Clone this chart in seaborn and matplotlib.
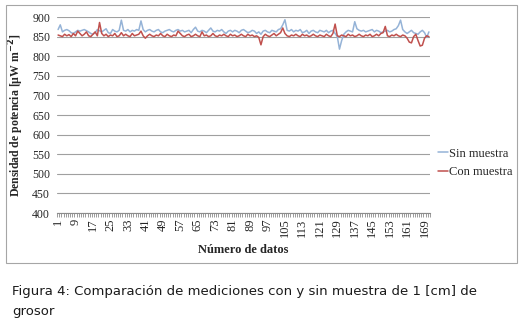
import numpy as np
import pandas as pd
import seaborn as sns
import matplotlib.pyplot as plt
from matplotlib.patches import Rectangle

# valores (µW m^-2)
sin_muestra = [
    868, 880, 862, 866, 868, 865, 860, 858, 862, 866,
    864, 866, 868, 865, 862, 858, 856, 860, 868, 865,
    862, 866, 870, 860, 858, 868, 864, 862, 866, 892,
    866, 864, 868, 862, 866, 864, 868, 866, 890, 868,
    862, 866, 868, 864, 862, 866, 868, 862, 860, 864,
    866, 868, 864, 862, 866, 868, 864, 866, 862, 864,
    866, 860, 868, 874, 864, 862, 866, 864, 860, 866,
    872, 864, 862, 866, 864, 868, 862, 858, 864, 866,
    862, 866, 864, 860, 866, 868, 864, 860, 862, 866,
    864, 858, 862, 856, 864, 866, 862, 860, 866, 864,
    862, 868, 870, 880, 893, 866, 864, 868, 862, 866,
    864, 868, 860, 862, 866, 858, 864, 866, 862, 860,
    866, 864, 862, 866, 860, 864, 866, 858, 850, 818,
    840, 856, 862, 866, 864, 862, 888, 870, 866, 864,
    866, 862, 864, 866, 868, 862, 866, 864, 860, 862,
    864, 866, 862, 864, 868, 870, 878, 892, 868, 862,
    858, 862, 866, 860, 858, 856, 862, 866, 860, 848, 862,
]
con_muestra = [
    854, 852, 850, 856, 852, 855, 850, 858, 852, 864,
    858, 852, 856, 862, 852, 850, 856, 862, 852, 886,
    858, 852, 856, 850, 854, 852, 858, 850, 852, 860,
    852, 856, 852, 850, 858, 852, 854, 856, 864, 852,
    846, 852, 856, 852, 850, 854, 852, 858, 852, 850,
    856, 852, 850, 854, 852, 864, 858, 852, 850, 854,
    856, 850, 852, 856, 852, 850, 862, 852, 854, 850,
    852, 858, 852, 850, 854, 852, 856, 852, 850, 856,
    852, 854, 850, 852, 856, 852, 850, 856, 852, 854,
    850, 852, 848, 829, 850, 856, 852, 850, 854, 858,
    852, 856, 860, 872, 858, 852, 850, 854, 852, 856,
    852, 850, 856, 852, 854, 850, 852, 856, 852, 850,
    854, 852, 850, 856, 852, 850, 858, 882, 852, 850,
    854, 852, 850, 856, 852, 854, 850, 852, 856, 852,
    850, 854, 852, 856, 850, 852, 856, 852, 858, 860,
    876, 852, 850, 854, 852, 856, 852, 850, 854, 852,
    846, 836, 834, 850, 856, 840, 826, 828, 846, 852, 850,
]
series_names = ["Sin muestra", "Con muestra"]
colors = ["#95B3D7", "#C0504D"]

n = len(sin_muestra)
datos = np.arange(1, n + 1)
df = pd.DataFrame({"dato": np.concatenate([datos, datos]),
                   "valor": sin_muestra + con_muestra,
                   "serie": [series_names[0]] * n + [series_names[1]] * n})

sns.set_style("white")
serif = "Liberation Serif"

fig = plt.figure(figsize=(5.27, 3.24), dpi=100)
ax = fig.add_axes([57 / 527, 1 - 213 / 324, (430 - 57) / 527, (213 - 17) / 324])

sns.lineplot(data=df, x="dato", y="valor", hue="serie", palette=colors,
             linewidth=1.1, ax=ax)

ax.set_ylim(400, 900)
ax.set_xlim(0.5, n + 0.5)
ax.set_yticks(np.arange(400, 901, 50))
ax.yaxis.grid(True, color="#a0a0a0", linewidth=0.8)
ax.set_axisbelow(True)
for s in ["top", "right", "left"]:
    ax.spines[s].set_visible(False)
ax.spines["bottom"].set_color("#8c8c8c")

ticks = datos[::8]
ax.set_xticks(ticks)
ax.set_xticklabels([str(t) for t in ticks], rotation=90, fontsize=9, family=serif)
ax.set_xticks(np.arange(0.5, n + 1, 1), minor=True)
ax.tick_params(axis="x", which="major", length=0, pad=4)
ax.tick_params(axis="x", which="minor", length=3, color="#8c8c8c", width=0.6, bottom=True)
ax.tick_params(axis="y", length=0, pad=5)
for lab in ax.get_yticklabels():
    lab.set_family(serif)
    lab.set_fontsize(8.5)

ax.set_xlabel("Número de datos", fontsize=9, fontweight="bold", family=serif, labelpad=5)
ax.set_ylabel("Densidad de potencia [µW m$^{\\mathbf{-2}}$]", fontsize=8.5,
              fontweight="bold", family=serif, labelpad=4)

ax.legend(loc="center left", bbox_to_anchor=(1.0, 0.255), frameon=False,
          prop={"family": serif, "size": 9}, handlelength=0.8,
          handletextpad=0.1, labelspacing=0.55, borderaxespad=0.2)

# borde del area del grafico
fig.patches.append(Rectangle((6 / 527, 1 - 263 / 324), 511 / 527, 258 / 324,
                             transform=fig.transFigure, fill=False,
                             edgecolor="#a6a6a6", linewidth=0.8))

fig.text(12 / 527, 1 - 292 / 324,
         "Figura 4: Comparación de mediciones con y sin muestra de 1 [cm] de",
         fontsize=9.5, family="DejaVu Sans", color="#1a1a1a", va="center")
fig.text(12 / 527, 1 - 311 / 324, "grosor",
         fontsize=9.5, family="DejaVu Sans", color="#1a1a1a", va="center")

fig.savefig("out.png", dpi=100)
